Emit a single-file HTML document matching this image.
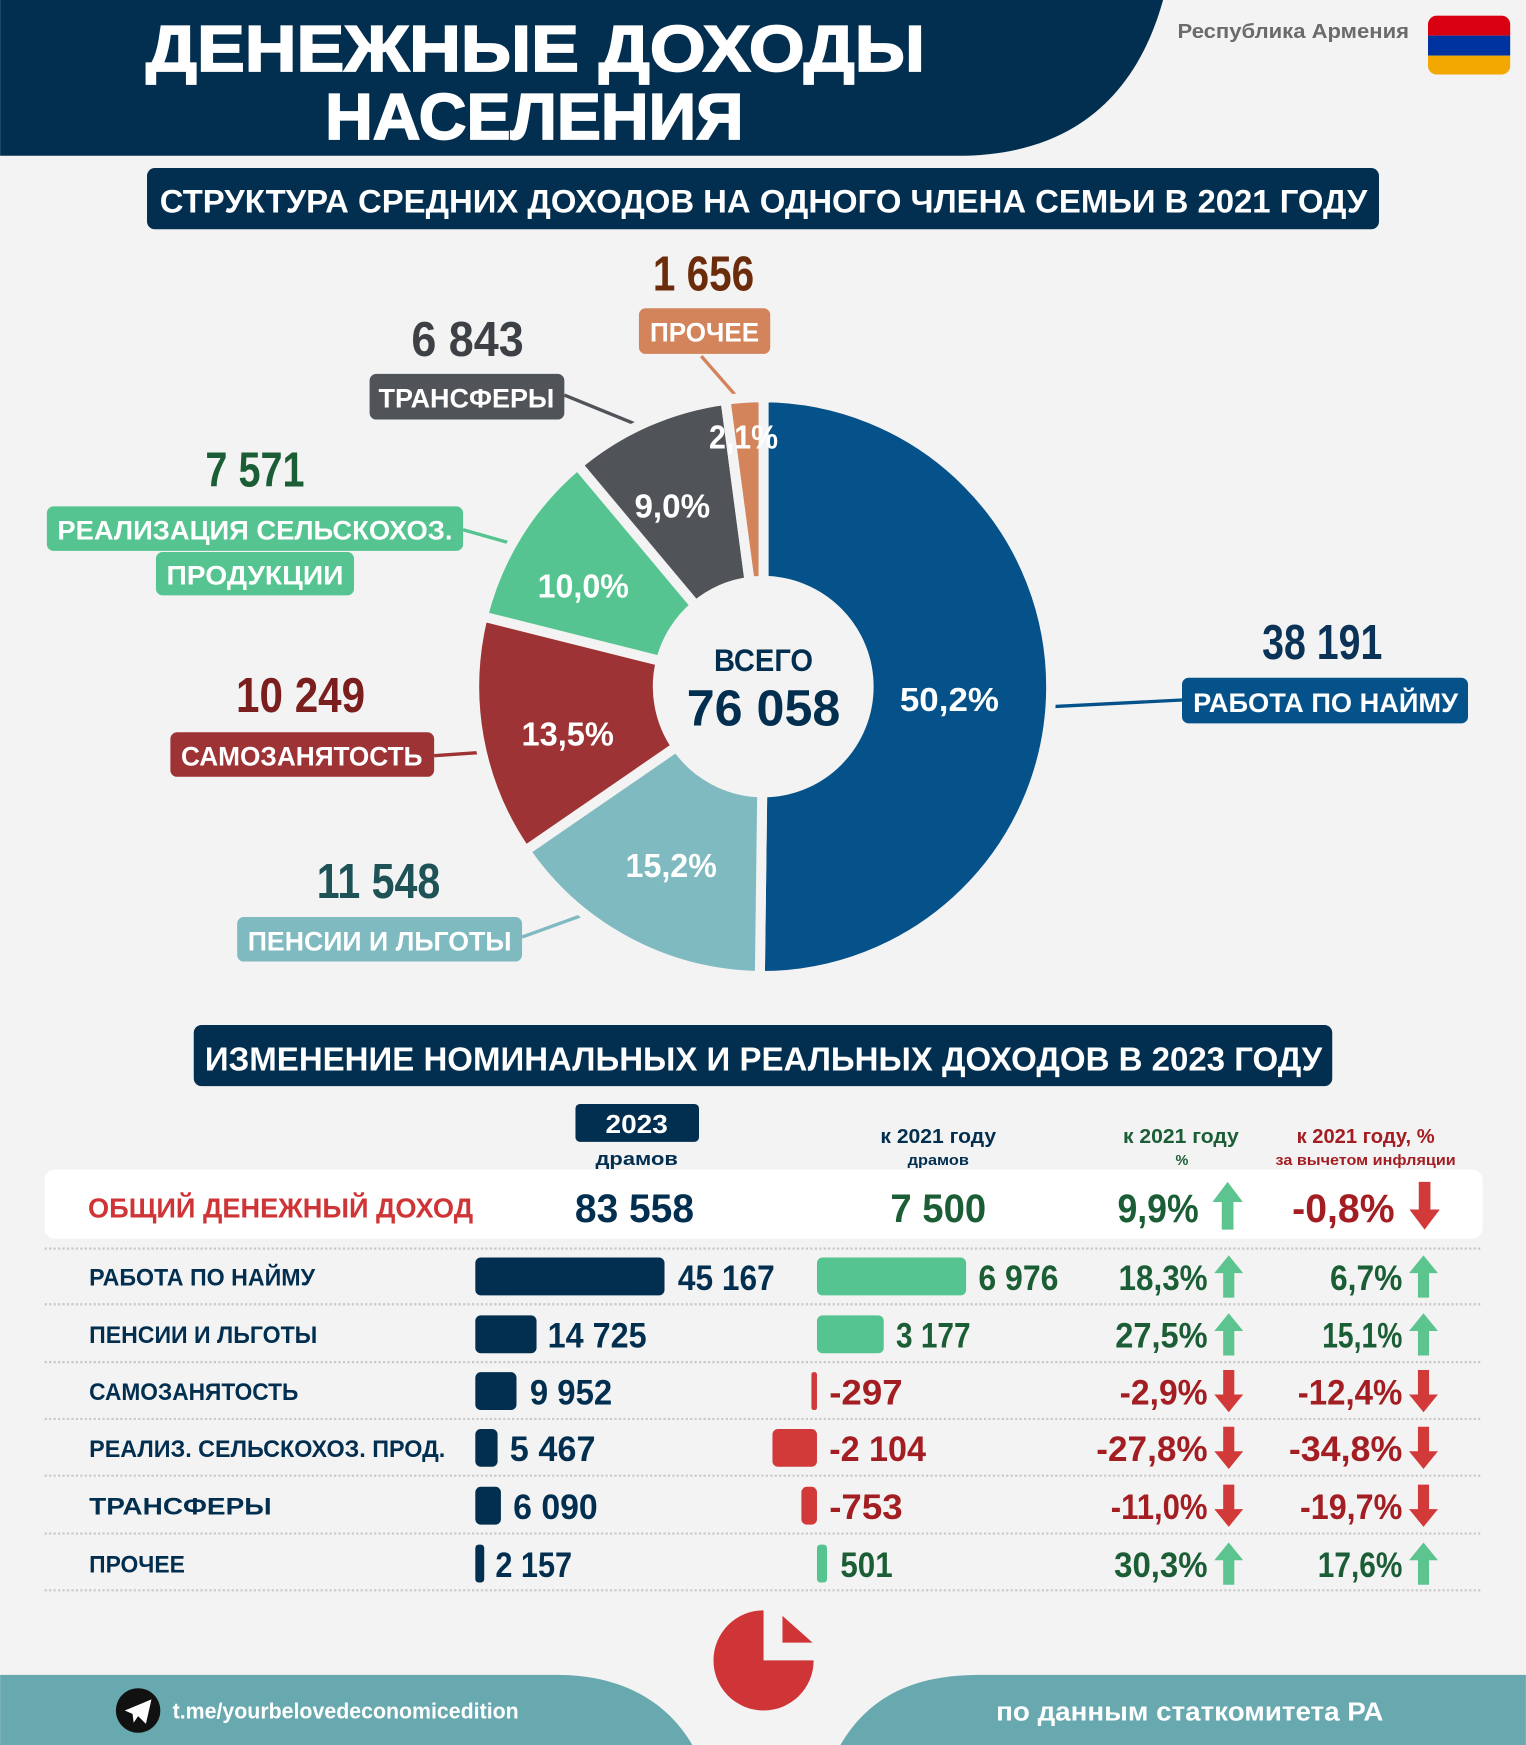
<!DOCTYPE html>
<html><head><meta charset="utf-8"><style>
html,body{margin:0;padding:0;background:#f3f3f3;}
svg{display:block;}
text{font-family:"Liberation Sans","DejaVu Sans",sans-serif;font-weight:bold;}
</style></head><body>
<svg width="1526" height="1745" viewBox="0 0 1371 1568" xmlns="http://www.w3.org/2000/svg">
<defs>
<path id="up" d="M0,0 L13,16 L5,16 L5,38 L-5,38 L-5,16 L-13,16 Z"/>
<path id="dn" d="M0,38 L13,22 L5,22 L5,0 L-5,0 L-5,22 L-13,22 Z"/>
</defs>
<rect width="1371" height="1568" fill="#f3f3f3"/>
<!-- header -->
<path d="M0,0 L1045,0 C1020,90 960,140 860,140 L0,140 Z" fill="#022f50"/>
<text x="481" y="64" font-size="58" fill="#fff" stroke="#fff" stroke-width="1.5" text-anchor="middle" textLength="700" lengthAdjust="spacingAndGlyphs">ДЕНЕЖНЫЕ ДОХОДЫ</text>
<text x="480" y="125" font-size="58" fill="#fff" stroke="#fff" stroke-width="1.5" text-anchor="middle" textLength="376" lengthAdjust="spacingAndGlyphs">НАСЕЛЕНИЯ</text>
<text x="1058" y="34" font-size="18" fill="#6b6b6b" textLength="208" lengthAdjust="spacingAndGlyphs">Республика Армения</text>
<clipPath id="fl"><rect x="1283" y="14" width="74" height="53" rx="8"/></clipPath>
<g clip-path="url(#fl)"><rect x="1283" y="14" width="74" height="18" fill="#d90012"/><rect x="1283" y="32" width="74" height="18" fill="#0033a0"/><rect x="1283" y="50" width="74" height="17" fill="#f2a800"/></g>
<rect x="132" y="151" width="1107" height="55" rx="7" fill="#022f50"/>
<text x="686" y="191" font-size="29" fill="#fff" text-anchor="middle" textLength="1085" lengthAdjust="spacingAndGlyphs">СТРУКТУРА СРЕДНИХ ДОХОДОВ НА ОДНОГО ЧЛЕНА СЕМЬИ В 2021 ГОДУ</text>
<!-- connector lines -->
<g stroke-width="3" fill="none">
<line x1="630" y1="320" x2="665" y2="360" stroke="#d3845a"/>
<line x1="507" y1="355" x2="578" y2="384" stroke="#505458"/>
<line x1="416" y1="476" x2="462" y2="489" stroke="#55c490"/>
<line x1="390" y1="679" x2="434" y2="676" stroke="#9e3335"/>
<line x1="469" y1="842" x2="527" y2="821" stroke="#80bac1"/>
<line x1="944" y1="635" x2="1062" y2="629" stroke="#05528a"/>
</g>
<!-- donut -->
<g stroke="#f3f3f3" stroke-width="9" stroke-linejoin="round">
<path d="M686,357 A260,260 0 1 1 682.7,877 L684.8,712 A95,95 0 1 0 686,522 Z" fill="#05528a"/>
<path d="M682.7,877 A260,260 0 0 1 471.9,764.5 L607.8,670.9 A95,95 0 0 0 684.8,712 Z" fill="#80bac1"/>
<path d="M471.9,764.5 A260,260 0 0 1 433.8,553.9 L593.8,594 A95,95 0 0 0 607.8,670.9 Z" fill="#9e3335"/>
<path d="M433.8,553.9 A260,260 0 0 1 519,417.7 L625,544.2 A95,95 0 0 0 593.8,594 Z" fill="#55c490"/>
<path d="M519,417.7 A260,260 0 0 1 651.8,359.3 L673.5,522.8 A95,95 0 0 0 625,544.2 Z" fill="#505458"/>
<path d="M651.8,359.3 A260,260 0 0 1 686,357 L686,522 A95,95 0 0 0 673.5,522.8 Z" fill="#d3845a"/>
</g>
<g fill="#fff" font-size="30">
<text x="853" y="639" text-anchor="middle" textLength="89" lengthAdjust="spacingAndGlyphs">50,2%</text>
<text x="603" y="788" text-anchor="middle" textLength="82" lengthAdjust="spacingAndGlyphs">15,2%</text>
<text x="510" y="670" text-anchor="middle" textLength="83" lengthAdjust="spacingAndGlyphs">13,5%</text>
<text x="524" y="537" text-anchor="middle" textLength="82" lengthAdjust="spacingAndGlyphs">10,0%</text>
<text x="604" y="465" text-anchor="middle" textLength="68" lengthAdjust="spacingAndGlyphs">9,0%</text>
<text x="668" y="403" text-anchor="middle" textLength="62" lengthAdjust="spacingAndGlyphs">2,1%</text>
</g>
<text x="686" y="603" font-size="28" fill="#022f50" text-anchor="middle" textLength="89" lengthAdjust="spacingAndGlyphs">ВСЕГО</text>
<text x="686" y="652" font-size="46" fill="#022f50" text-anchor="middle" textLength="138" lengthAdjust="spacingAndGlyphs">76 058</text>
<!-- labels -->
<g font-size="44" text-anchor="middle">
<text x="632" y="261" fill="#6b2c0c" textLength="91" lengthAdjust="spacingAndGlyphs">1 656</text>
<text x="420" y="320" fill="#3d4145" textLength="101" lengthAdjust="spacingAndGlyphs">6 843</text>
<text x="229" y="437" fill="#1b5e36" textLength="89" lengthAdjust="spacingAndGlyphs">7 571</text>
<text x="270" y="640" fill="#7a1e1e" textLength="116" lengthAdjust="spacingAndGlyphs">10 249</text>
<text x="340" y="807" fill="#1f5257" textLength="111" lengthAdjust="spacingAndGlyphs">11 548</text>
<text x="1188" y="592" fill="#0a3357" textLength="108" lengthAdjust="spacingAndGlyphs">38 191</text>
</g>
<rect x="574" y="277" width="118" height="41" rx="6" fill="#d3845a"/>
<rect x="332" y="336" width="175" height="41" rx="6" fill="#505458"/>
<rect x="42" y="455" width="374" height="40" rx="6" fill="#55c490"/>
<rect x="140" y="496" width="178" height="39" rx="6" fill="#55c490"/>
<rect x="153" y="658" width="237" height="40" rx="6" fill="#9e3335"/>
<rect x="213" y="824" width="256" height="40" rx="6" fill="#80bac1"/>
<rect x="1062" y="609" width="257" height="41" rx="6" fill="#05528a"/>
<g font-size="24" fill="#fff" text-anchor="middle">
<text x="633" y="307" textLength="98" lengthAdjust="spacingAndGlyphs">ПРОЧЕЕ</text>
<text x="419" y="366" textLength="158" lengthAdjust="spacingAndGlyphs">ТРАНСФЕРЫ</text>
<text x="229" y="485" textLength="355" lengthAdjust="spacingAndGlyphs">РЕАЛИЗАЦИЯ СЕЛЬСКОХОЗ.</text>
<text x="229" y="525" textLength="159" lengthAdjust="spacingAndGlyphs">ПРОДУКЦИИ</text>
<text x="271" y="688" textLength="217" lengthAdjust="spacingAndGlyphs">САМОЗАНЯТОСТЬ</text>
<text x="341" y="854" textLength="237" lengthAdjust="spacingAndGlyphs">ПЕНСИИ И ЛЬГОТЫ</text>
<text x="1191" y="640" textLength="238" lengthAdjust="spacingAndGlyphs">РАБОТА ПО НАЙМУ</text>
</g>
<!-- second section -->
<rect x="174" y="921" width="1023" height="55" rx="7" fill="#022f50"/>
<text x="686" y="962" font-size="30" fill="#fff" text-anchor="middle" textLength="1004" lengthAdjust="spacingAndGlyphs">ИЗМЕНЕНИЕ НОМИНАЛЬНЫХ И РЕАЛЬНЫХ ДОХОДОВ В 2023 ГОДУ</text>
<rect x="517" y="992" width="111" height="34" rx="4" fill="#022f50"/>
<text x="572" y="1018" font-size="23" fill="#fff" text-anchor="middle" textLength="56" lengthAdjust="spacingAndGlyphs">2023</text>
<text x="572" y="1047" font-size="17" fill="#022f50" text-anchor="middle" textLength="74" lengthAdjust="spacingAndGlyphs">драмов</text>
<text x="843" y="1027" font-size="18" fill="#022f50" text-anchor="middle" textLength="104" lengthAdjust="spacingAndGlyphs">к 2021 году</text>
<text x="843" y="1047" font-size="13" fill="#022f50" text-anchor="middle" textLength="55" lengthAdjust="spacingAndGlyphs">драмов</text>
<text x="1061" y="1027" font-size="18" fill="#1b5e36" text-anchor="middle" textLength="104" lengthAdjust="spacingAndGlyphs">к 2021 году</text>
<text x="1062" y="1047" font-size="13" fill="#1b5e36" text-anchor="middle">%</text>
<text x="1227" y="1027" font-size="18" fill="#a31e22" text-anchor="middle" textLength="124" lengthAdjust="spacingAndGlyphs">к 2021 году, %</text>
<text x="1227" y="1047" font-size="13" fill="#a31e22" text-anchor="middle" textLength="162" lengthAdjust="spacingAndGlyphs">за вычетом инфляции</text>
<rect x="40" y="1051" width="1292" height="62" rx="9" fill="#fff"/>
<text x="79" y="1094" font-size="25" fill="#cf3436" textLength="346" lengthAdjust="spacingAndGlyphs">ОБЩИЙ ДЕНЕЖНЫЙ ДОХОД</text>
<text x="570" y="1098" font-size="36" fill="#022f50" text-anchor="middle" textLength="107" lengthAdjust="spacingAndGlyphs">83 558</text>
<text x="843" y="1098" font-size="36" fill="#1b5e36" text-anchor="middle" textLength="86" lengthAdjust="spacingAndGlyphs">7 500</text>
<text x="1077" y="1098" font-size="36" fill="#1b5e36" text-anchor="end" textLength="73" lengthAdjust="spacingAndGlyphs">9,9%</text>
<text x="1253" y="1098" font-size="36" fill="#a31e22" text-anchor="end" textLength="92" lengthAdjust="spacingAndGlyphs">-0,8%</text>
<g transform="translate(1103,1062) scale(1.05,1.13)"><use href="#up" fill="#5cc48e"/></g>
<g transform="translate(1280,1062) scale(1.05,1.13)"><use href="#dn" fill="#d23a3a"/></g>
<!-- separators -->
<g stroke="#c9c9c9" stroke-width="2" stroke-dasharray="2,2">
<line x1="40" y1="1122" x2="1332" y2="1122"/><line x1="40" y1="1172" x2="1332" y2="1172"/>
<line x1="40" y1="1224" x2="1332" y2="1224"/><line x1="40" y1="1275" x2="1332" y2="1275"/>
<line x1="40" y1="1326" x2="1332" y2="1326"/><line x1="40" y1="1378" x2="1332" y2="1378"/>
<line x1="40" y1="1429" x2="1332" y2="1429"/>
</g>
<!-- rows -->
<g font-size="22" fill="#022f50">
<text x="80" y="1155" textLength="203" lengthAdjust="spacingAndGlyphs">РАБОТА ПО НАЙМУ</text>
<text x="80" y="1207" textLength="205" lengthAdjust="spacingAndGlyphs">ПЕНСИИ И ЛЬГОТЫ</text>
<text x="80" y="1258" textLength="188" lengthAdjust="spacingAndGlyphs">САМОЗАНЯТОСТЬ</text>
<text x="80" y="1309" textLength="320" lengthAdjust="spacingAndGlyphs">РЕАЛИЗ. СЕЛЬСКОХОЗ. ПРОД.</text>
<text x="80" y="1361" textLength="164" lengthAdjust="spacingAndGlyphs">ТРАНСФЕРЫ</text>
<text x="80" y="1413" textLength="86" lengthAdjust="spacingAndGlyphs">ПРОЧЕЕ</text>
</g>
<g fill="#022f50">
<rect x="427" y="1130" width="170" height="34" rx="5"/>
<rect x="427" y="1182" width="55" height="34" rx="5"/>
<rect x="427" y="1233" width="37" height="34" rx="5"/>
<rect x="427" y="1284" width="20" height="34" rx="5"/>
<rect x="427" y="1336" width="23" height="34" rx="5"/>
<rect x="427" y="1388" width="8" height="34" rx="3"/>
</g>
<g font-size="32" fill="#022f50">
<text x="609" y="1159" textLength="87" lengthAdjust="spacingAndGlyphs">45 167</text>
<text x="492" y="1211" textLength="89" lengthAdjust="spacingAndGlyphs">14 725</text>
<text x="476" y="1262" textLength="74" lengthAdjust="spacingAndGlyphs">9 952</text>
<text x="458" y="1313" textLength="77" lengthAdjust="spacingAndGlyphs">5 467</text>
<text x="461" y="1365" textLength="76" lengthAdjust="spacingAndGlyphs">6 090</text>
<text x="445" y="1417" textLength="69" lengthAdjust="spacingAndGlyphs">2 157</text>
</g>
<rect x="734" y="1130" width="134" height="34" rx="5" fill="#55c490"/>
<rect x="734" y="1182" width="60" height="34" rx="5" fill="#55c490"/>
<rect x="729" y="1233" width="5" height="34" rx="2" fill="#d23a3a"/>
<rect x="694" y="1284" width="40" height="34" rx="5" fill="#d23a3a"/>
<rect x="720" y="1336" width="14" height="34" rx="5" fill="#d23a3a"/>
<rect x="734" y="1388" width="9" height="34" rx="3" fill="#55c490"/>
<g font-size="32">
<text x="879" y="1159" fill="#1b5e36" textLength="72" lengthAdjust="spacingAndGlyphs">6 976</text>
<text x="805" y="1211" fill="#1b5e36" textLength="67" lengthAdjust="spacingAndGlyphs">3 177</text>
<text x="745" y="1262" fill="#a31e22" textLength="66" lengthAdjust="spacingAndGlyphs">-297</text>
<text x="745" y="1313" fill="#a31e22" textLength="87" lengthAdjust="spacingAndGlyphs">-2 104</text>
<text x="745" y="1365" fill="#a31e22" textLength="66" lengthAdjust="spacingAndGlyphs">-753</text>
<text x="755" y="1417" fill="#1b5e36" textLength="47" lengthAdjust="spacingAndGlyphs">501</text>
</g>
<g font-size="32" text-anchor="end">
<text x="1085" y="1159" fill="#1b5e36" textLength="80" lengthAdjust="spacingAndGlyphs">18,3%</text>
<text x="1085" y="1211" fill="#1b5e36" textLength="83" lengthAdjust="spacingAndGlyphs">27,5%</text>
<text x="1085" y="1262" fill="#a31e22" textLength="79" lengthAdjust="spacingAndGlyphs">-2,9%</text>
<text x="1085" y="1313" fill="#a31e22" textLength="100" lengthAdjust="spacingAndGlyphs">-27,8%</text>
<text x="1085" y="1365" fill="#a31e22" textLength="87" lengthAdjust="spacingAndGlyphs">-11,0%</text>
<text x="1085" y="1417" fill="#1b5e36" textLength="84" lengthAdjust="spacingAndGlyphs">30,3%</text>
<text x="1260" y="1159" fill="#1b5e36" textLength="65" lengthAdjust="spacingAndGlyphs">6,7%</text>
<text x="1260" y="1211" fill="#1b5e36" textLength="72" lengthAdjust="spacingAndGlyphs">15,1%</text>
<text x="1260" y="1262" fill="#a31e22" textLength="94" lengthAdjust="spacingAndGlyphs">-12,4%</text>
<text x="1260" y="1313" fill="#a31e22" textLength="102" lengthAdjust="spacingAndGlyphs">-34,8%</text>
<text x="1260" y="1365" fill="#a31e22" textLength="92" lengthAdjust="spacingAndGlyphs">-19,7%</text>
<text x="1260" y="1417" fill="#1b5e36" textLength="76" lengthAdjust="spacingAndGlyphs">17,6%</text>
</g>
<g fill="#5cc48e">
<use href="#up" x="1104" y="1128"/><use href="#up" x="1279" y="1128"/>
<use href="#up" x="1104" y="1180"/><use href="#up" x="1279" y="1180"/>
<use href="#up" x="1104" y="1386"/><use href="#up" x="1279" y="1386"/>
</g>
<g fill="#d23a3a">
<use href="#dn" x="1104" y="1231"/><use href="#dn" x="1279" y="1231"/>
<use href="#dn" x="1104" y="1282"/><use href="#dn" x="1279" y="1282"/>
<use href="#dn" x="1104" y="1334"/><use href="#dn" x="1279" y="1334"/>
</g>
<!-- footer -->
<path d="M0,1505 L500,1505 C560,1505 600,1530 622,1568 L0,1568 Z" fill="#68a9b0"/>
<path d="M755,1568 C780,1525 820,1505 880,1505 L1371,1505 L1371,1568 Z" fill="#68a9b0"/>
<path d="M686,1492 L686,1447 A45,45 0 1 0 731,1492 Z" fill="#cf3436"/>
<path d="M703,1452 L703,1476 L730,1476 Z" fill="#cf3436"/>
<circle cx="124" cy="1537" r="20" fill="#111"/>
<path d="M112,1537 L136,1527 L131,1549 L124,1542 L120,1548 L119,1540 Z" fill="#fff"/>
<text x="155" y="1544" font-size="20" fill="#fff" textLength="311" lengthAdjust="spacingAndGlyphs">t.me/yourbelovedeconomicedition</text>
<text x="895" y="1546" font-size="23" fill="#fff" textLength="348" lengthAdjust="spacingAndGlyphs">по данным статкомитета РА</text>
</svg>
</body></html>
